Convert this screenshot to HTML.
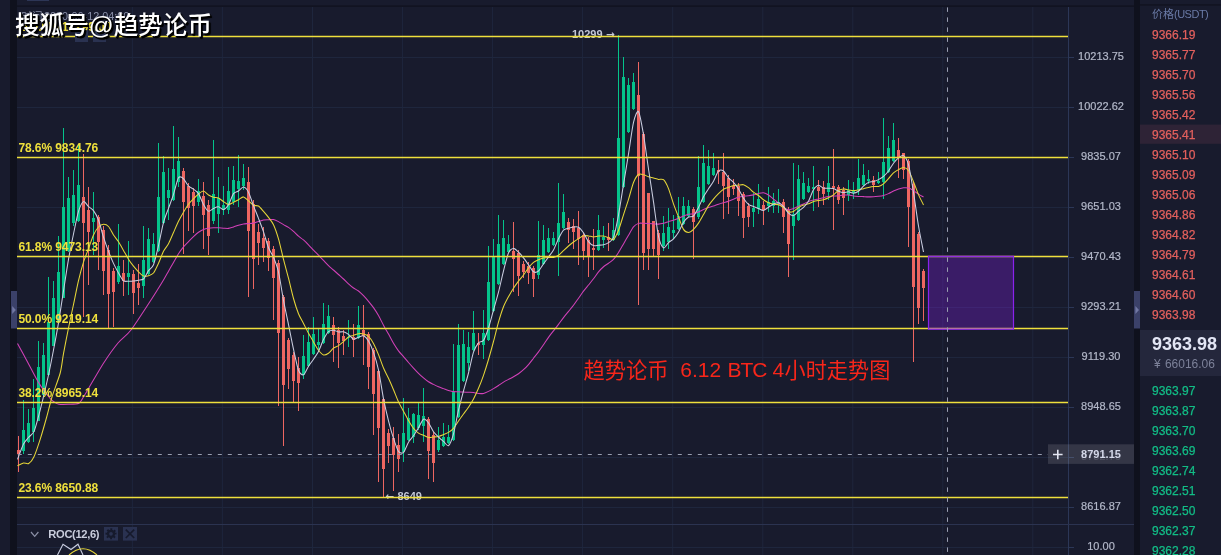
<!DOCTYPE html>
<html><head><meta charset="utf-8"><title>BTC 4H</title>
<style>
html,body{margin:0;padding:0;background:#181b2d;}
#r{will-change:transform;position:relative;width:1221px;height:555px;overflow:hidden;background:#181b2d;font-family:"Liberation Sans","Noto Sans CJK SC",sans-serif;}
#r svg{position:absolute;left:0;top:0;}
.t{position:absolute;white-space:nowrap;line-height:0;height:0;}
.t::before{content:"";display:inline-block;height:0;}
.c{transform:translateX(-50%);}
</style></head><body>
<div id="r">
<svg width="1221" height="555" viewBox="0 0 1221 555" shape-rendering="auto">
<rect x="0" y="0" width="1221" height="555" fill="#181b2d"/>
<rect x="10" y="0" width="7" height="555" fill="#0f111d"/>
<rect x="1134" y="0" width="6" height="555" fill="#0f111d"/>
<rect x="17" y="5.5" width="1117" height="1.2" fill="#0f111d"/>
<rect x="1140" y="4.4" width="81" height="1.1" fill="#0f111d"/>
<rect x="27" y="0" width="22" height="0.9" fill="#303a5c"/>
<rect x="11" y="291" width="6" height="37.5" fill="#3b4169"/>
<path d="M12.2 306 L15.8 310 L12.2 314 Z" fill="#7178a4"/>
<rect x="1134" y="291" width="6" height="37.5" fill="#3b4169"/>
<path d="M1135.4 306 L1139 310 L1135.4 314 Z" fill="#7178a4"/>
<path d="M132.4 7V555 M222.4 7V555 M312.5 7V555 M402.6 7V555 M492.6 7V555 M582.6 7V555 M672.7 7V555 M762.8 7V555 M852.8 7V555 M942.8 7V555 M1032.8 7V555 M17 57.5H1074 M17 107.5H1074 M17 157.5H1074 M17 207.5H1074 M17 257.5H1074 M17 307.5H1074 M17 357.5H1074 M17 407.5H1074 M17 457.5H1074 M17 507.5H1074 M17 547.5H1074" stroke="#1e263d" stroke-width="1" fill="none"/>
<path d="M1068.5 7V555" stroke="#2c3757" stroke-width="1"/>
<path d="M1069 57.5H1074 M1069 107.5H1074 M1069 157.5H1074 M1069 207.5H1074 M1069 257.5H1074 M1069 307.5H1074 M1069 357.5H1074 M1069 407.5H1074 M1069 457.5H1074 M1069 507.5H1074 M1069 547.5H1074" stroke="#2c3757" stroke-width="1" fill="none"/>
<path d="M17 524.5H1134" stroke="#2b3350" stroke-width="1"/>
<path d="M23.5 400V454 M28.5 409V443 M33.5 379V442 M38.5 341V421 M43.5 343V396 M48.5 277V375 M53.5 281V346 M58.5 236V322 M63.5 128V298 M68.5 177V252 M73.5 170V226 M78.5 145V222 M93.5 192V255 M118.5 224V284 M128.5 241V295 M143.5 226V298 M148.5 228V275 M153.5 233V263 M158.5 143V252 M163.5 156V224 M168.5 168V220 M173.5 126V201 M178.5 137V187 M198.5 179V206 M213.5 140V224 M218.5 177V233 M223.5 186V215 M228.5 167V214 M233.5 166V205 M238.5 155V207 M243.5 164V190 M303.5 335V379 M308.5 327V367 M313.5 317V355 M318.5 329V350 M323.5 303V344 M328.5 305V334 M348.5 320V347 M358.5 306V339 M403.5 398V462 M408.5 408V441 M413.5 413V443 M418.5 403V430 M423.5 388V442 M438.5 427V452 M443.5 423V447 M448.5 425V444 M453.5 344V441 M458.5 324V418 M463.5 330V382 M468.5 332V371 M473.5 311V351 M483.5 310V359 M488.5 246V341 M493.5 239V312 M498.5 215V285 M503.5 220V265 M508.5 235V253 M538.5 221V279 M543.5 225V265 M548.5 228V253 M553.5 232V246 M558.5 183V276 M563.5 194V229 M598.5 215V251 M603.5 226V248 M613.5 218V241 M618.5 35V236 M623.5 57V188 M628.5 78V133 M633.5 73V110 M663.5 216V251 M668.5 208V249 M673.5 215V239 M678.5 197V230 M683.5 197V225 M688.5 200V217 M698.5 156V219 M703.5 145V203 M708.5 150V185 M713.5 153V176 M753.5 193V227 M758.5 184V214 M768.5 187V212 M773.5 193V213 M778.5 189V213 M793.5 163V260 M798.5 165V221 M803.5 172V200 M808.5 178V193 M813.5 166V211 M828.5 166V200 M848.5 180V201 M853.5 182V199 M858.5 159V195 M863.5 164V186 M868.5 170V184 M878.5 172V184 M883.5 118V199 M888.5 136V173 M893.5 123V162" stroke="#04c38a" stroke-width="1" fill="none"/>
<path d="M22 430h3v21h-3z M27 423h3v19h-3z M32 408h3v24h-3z M37 367h3v54h-3z M42 355h3v40h-3z M47 322h3v53h-3z M52 298h3v48h-3z M57 272h3v50h-3z M62 207h3v91h-3z M67 198h3v53h-3z M72 195h3v28h-3z M77 185h3v36h-3z M92 218h3v4h-3z M117 266h3v16h-3z M127 273h3v4h-3z M142 260h3v26h-3z M147 239h3v35h-3z M152 244h3v18h-3z M157 197h3v54h-3z M162 172h3v51h-3z M167 190h3v8h-3z M172 169h3v31h-3z M177 161h3v21h-3z M197 191h3v11h-3z M212 194h3v27h-3z M217 198h3v16h-3z M222 205h3v5h-3z M227 191h3v19h-3z M232 180h3v22h-3z M237 181h3v8h-3z M242 178h3v8h-3z M302 356h3v19h-3z M307 342h3v24h-3z M312 334h3v20h-3z M317 342h3v3h-3z M322 324h3v19h-3z M327 316h3v17h-3z M347 337h3v1h-3z M357 325h3v13h-3z M402 433h3v19h-3z M407 418h3v22h-3z M412 414h3v23h-3z M417 415h3v13h-3z M422 416h3v10h-3z M437 440h3v10h-3z M442 437h3v9h-3z M447 437h3v6h-3z M452 392h3v48h-3z M457 345h3v72h-3z M462 344h3v37h-3z M467 347h3v16h-3z M472 333h3v17h-3z M482 333h3v12h-3z M487 282h3v58h-3z M492 257h3v54h-3z M497 244h3v40h-3z M502 238h3v26h-3z M507 244h3v8h-3z M537 255h3v20h-3z M542 240h3v24h-3z M547 238h3v14h-3z M552 238h3v7h-3z M557 223h3v19h-3z M562 212h3v16h-3z M597 230h3v20h-3z M602 237h3v3h-3z M612 230h3v10h-3z M617 138h3v97h-3z M622 77h3v110h-3z M627 85h3v47h-3z M632 82h3v27h-3z M662 233h3v13h-3z M667 227h3v15h-3z M672 230h3v3h-3z M677 216h3v13h-3z M682 206h3v18h-3z M687 206h3v10h-3z M697 187h3v30h-3z M702 163h3v39h-3z M707 166h3v18h-3z M712 168h3v7h-3z M752 208h3v4h-3z M757 199h3v10h-3z M767 202h3v4h-3z M772 201h3v5h-3z M777 202h3v2h-3z M792 214h3v12h-3z M797 179h3v41h-3z M802 183h3v16h-3z M807 186h3v6h-3z M812 187h3v2h-3z M827 183h3v9h-3z M847 190h3v5h-3z M852 190h3v3h-3z M857 178h3v12h-3z M862 175h3v10h-3z M867 179h3v2h-3z M877 181h3v2h-3z M882 162h3v20h-3z M887 148h3v24h-3z M892 140h3v21h-3z" fill="#04c38a"/>
<path d="M18.5 436V472 M83.5 154V317 M88.5 187V285 M98.5 215V270 M103.5 226V295 M108.5 245V328 M113.5 268V327 M123.5 260V296 M133.5 270V314 M138.5 264V305 M183.5 168V254 M188.5 183V231 M193.5 188V233 M203.5 182V249 M208.5 200V255 M248.5 167V297 M253.5 200V289 M258.5 224V265 M263.5 227V262 M268.5 238V271 M273.5 246V320 M278.5 260V406 M283.5 295V446 M288.5 338V389 M293.5 352V402 M298.5 357V411 M333.5 317V362 M338.5 327V368 M343.5 330V355 M353.5 324V357 M363.5 305V365 M368.5 332V389 M373.5 348V435 M378.5 370V482 M383.5 398V498 M388.5 429V463 M393.5 427V491 M398.5 434V472 M428.5 417V479 M433.5 432V482 M478.5 333V355 M513.5 222V292 M518.5 250V296 M523.5 261V278 M528.5 262V284 M533.5 266V297 M568.5 218V243 M573.5 219V249 M578.5 211V265 M583.5 233V260 M588.5 237V277 M593.5 229V270 M608.5 223V251 M638.5 62V305 M643.5 132V270 M648.5 193V270 M653.5 221V256 M658.5 230V279 M693.5 207V259 M718.5 160V184 M723.5 153V219 M728.5 175V214 M733.5 179V195 M738.5 183V216 M743.5 192V238 M748.5 203V227 M763.5 201V225 M783.5 199V233 M788.5 207V277 M818.5 180V207 M823.5 181V205 M833.5 149V230 M838.5 185V204 M843.5 187V215 M873.5 176V192 M898.5 138V178 M903.5 153V179 M908.5 159V247 M913.5 182V362 M918.5 232V324 M923.5 269V321" stroke="#ee6661" stroke-width="1" fill="none"/>
<path d="M17 450h3v4h-3z M82 197h3v26h-3z M87 210h3v22h-3z M97 217h3v25h-3z M102 230h3v41h-3z M107 250h3v44h-3z M112 271h3v21h-3z M122 273h3v8h-3z M132 274h3v19h-3z M137 283h3v5h-3z M182 171h3v31h-3z M187 186h3v22h-3z M192 192h3v14h-3z M202 196h3v19h-3z M207 205h3v31h-3z M247 182h3v49h-3z M252 204h3v55h-3z M257 232h3v11h-3z M262 238h3v10h-3z M267 241h3v17h-3z M272 249h3v29h-3z M277 263h3v70h-3z M282 297h3v88h-3z M287 340h3v29h-3z M292 355h3v26h-3z M297 368h3v15h-3z M332 325h3v10h-3z M337 330h3v13h-3z M342 336h3v5h-3z M352 337h3v3h-3z M362 330h3v6h-3z M367 334h3v33h-3z M372 350h3v44h-3z M377 371h3v57h-3z M382 399h3v70h-3z M387 433h3v13h-3z M392 438h3v17h-3z M397 445h3v14h-3z M427 419h3v32h-3z M432 435h3v28h-3z M477 343h3v2h-3z M512 251h3v8h-3z M517 253h3v23h-3z M522 264h3v8h-3z M527 266h3v7h-3z M532 268h3v11h-3z M567 222h3v8h-3z M572 226h3v6h-3z M577 228h3v11h-3z M582 235h3v16h-3z M587 240h3v16h-3z M592 248h3v2h-3z M607 237h3v3h-3z M637 95h3v81h-3z M642 134h3v119h-3z M647 193h3v56h-3z M652 221h3v28h-3z M657 233h3v22h-3z M692 209h3v13h-3z M717 170h3v2h-3z M722 172h3v14h-3z M727 178h3v19h-3z M732 186h3v3h-3z M737 186h3v15h-3z M742 194h3v24h-3z M747 206h3v11h-3z M762 205h3v5h-3z M782 202h3v15h-3z M787 210h3v34h-3z M817 187h3v4h-3z M822 187h3v7h-3z M832 186h3v2h-3z M837 187h3v13h-3z M842 190h3v8h-3z M872 180h3v5h-3z M897 150h3v8h-3z M902 153h3v17h-3z M907 161h3v46h-3z M912 184h3v103h-3z M917 234h3v74h-3z M922 271h3v17h-3z" fill="#ee6661"/>
<path d="M17.5 343.5C18.87 346.02 24.99 357.19 27.8 362.4C30.61 367.61 35.61 377.79 38.6 382.6C41.59 387.41 48.08 395.89 50.2 398.5C52.32 401.11 53.35 401.44 54.5 402.2C55.65 402.96 57 403.92 58.8 404.2C60.6 404.48 65.31 404.43 68 404.3C70.69 404.17 76.87 404.31 79 403.2C81.13 402.09 82.67 398.07 84 396C85.33 393.93 86.4 392.07 89 387.7C91.6 383.33 99.63 369.16 103.5 363.2C107.37 357.24 114.33 347.43 118 343C121.67 338.57 126.6 335.73 131 330C135.4 324.27 146.67 306.67 151 300C155.33 293.33 161.17 283.81 163.5 279.97C165.83 276.12 167.17 273.5 168.5 271.17C169.83 268.83 172.17 264.79 173.5 262.47C174.83 260.14 177.17 255.81 178.5 253.73C179.83 251.65 182.17 248.49 183.5 246.87C184.83 245.24 187.17 242.94 188.5 241.57C189.83 240.2 192.17 237.84 193.5 236.6C194.83 235.36 197.17 233.18 198.5 232.23C199.83 231.28 202.17 230 203.5 229.47C204.83 228.94 207.17 228.48 208.5 228.27C209.83 228.05 212.17 227.89 213.5 227.83C214.83 227.78 217.17 227.79 218.5 227.83C219.83 227.88 222.17 228.1 223.5 228.17C224.83 228.24 227.17 228.53 228.5 228.37C229.83 228.2 232.17 227.35 233.5 226.93C234.83 226.52 237.17 225.64 238.5 225.23C239.83 224.83 242.17 224.13 243.5 223.9C244.83 223.67 247.17 223.64 248.5 223.53C249.83 223.43 252.17 223.41 253.5 223.13C254.83 222.85 257.17 221.86 258.5 221.43C259.83 221.01 262.17 220.2 263.5 219.97C264.83 219.74 267.17 219.75 268.5 219.7C269.83 219.65 272.17 219.35 273.5 219.6C274.83 219.85 277.17 220.92 278.5 221.6C279.83 222.28 282.17 223.9 283.5 224.67C284.83 225.44 287.17 226.47 288.5 227.37C289.83 228.26 292.17 230.22 293.5 231.4C294.83 232.58 297.17 235.06 298.5 236.2C299.83 237.34 302.17 238.79 303.5 239.93C304.83 241.08 307.17 243.4 308.5 244.77C309.83 246.13 312.17 248.77 313.5 250.17C314.83 251.56 317.17 253.87 318.5 255.23C319.83 256.6 322.17 259.02 323.5 260.4C324.83 261.78 327.17 264.29 328.5 265.57C329.83 266.85 332.17 268.81 333.5 270C334.83 271.19 337.17 273.3 338.5 274.5C339.83 275.7 342.17 277.75 343.5 279C344.83 280.25 347.17 282.66 348.5 283.87C349.83 285.07 352.17 287.08 353.5 288.03C354.83 288.98 357.17 289.97 358.5 291C359.83 292.03 362.17 294.35 363.5 295.73C364.83 297.12 367.17 299.78 368.5 301.37C369.83 302.96 372.17 305.77 373.5 307.67C374.83 309.56 377.17 313.23 378.5 315.57C379.83 317.9 382.17 322.74 383.5 325.2C384.83 327.66 387.17 331.62 388.5 334.03C389.83 336.44 392.17 341.02 393.5 343.27C394.83 345.51 397.17 349.08 398.5 350.87C399.83 352.65 402.17 355.12 403.5 356.67C404.83 358.22 407.17 360.98 408.5 362.5C409.83 364.02 412.17 366.6 413.5 368.03C414.83 369.47 417.17 371.96 418.5 373.27C419.83 374.58 422.17 376.73 423.5 377.87C424.83 379 427.17 380.93 428.5 381.8C429.83 382.67 432.17 383.74 433.5 384.4C434.83 385.06 437.17 386.2 438.5 386.77C439.83 387.33 442.17 388.14 443.5 388.63C444.83 389.12 447.17 390.03 448.5 390.43C449.83 390.83 452.17 391.46 453.5 391.63C454.83 391.81 457.17 391.68 458.5 391.73C459.83 391.79 462.17 392 463.5 392.07C464.83 392.13 467.17 392.17 468.5 392.23C469.83 392.3 472.17 392.36 473.5 392.53C474.83 392.7 477.17 393.38 478.5 393.5C479.83 393.62 482.17 393.71 483.5 393.43C484.83 393.15 487.17 392.04 488.5 391.4C489.83 390.76 492.17 389.39 493.5 388.6C494.83 387.81 497.17 386.37 498.5 385.5C499.83 384.63 502.17 382.91 503.5 382.1C504.83 381.29 507.17 380.1 508.5 379.4C509.83 378.7 512.17 377.58 513.5 376.83C514.83 376.09 517.17 374.75 518.5 373.8C519.83 372.85 522.17 370.96 523.5 369.73C524.83 368.5 527.17 366.1 528.5 364.57C529.83 363.03 532.17 359.93 533.5 358.23C534.83 356.54 537.17 353.67 538.5 351.87C539.83 350.06 542.17 346.64 543.5 344.7C544.83 342.76 547.17 339.18 548.5 337.33C549.83 335.48 552.17 332.57 553.5 330.83C554.83 329.1 557.17 326.1 558.5 324.33C559.83 322.57 562.17 319.32 563.5 317.6C564.83 315.88 567.17 313.07 568.5 311.43C569.83 309.79 572.17 307.06 573.5 305.3C574.83 303.54 577.17 300.12 578.5 298.23C579.83 296.35 582.17 292.93 583.5 291.17C584.83 289.41 587.17 286.68 588.5 285.03C589.83 283.38 592.17 280.55 593.5 278.8C594.83 277.05 597.17 273.51 598.5 271.9C599.83 270.29 602.17 267.89 603.5 266.73C604.83 265.58 607.17 264.21 608.5 263.23C609.83 262.26 612.17 260.87 613.5 259.43C614.83 258 617.17 254.53 618.5 252.47C619.83 250.4 622.17 246.23 623.5 243.93C624.83 241.64 627.17 237.54 628.5 235.27C629.83 233 632.17 228.49 633.5 226.9C634.83 225.31 637.17 223.86 638.5 223.37C639.83 222.88 642.17 223.23 643.5 223.23C644.83 223.24 647.17 223.33 648.5 223.4C649.83 223.47 652.17 223.67 653.5 223.77C654.83 223.86 657.17 224.2 658.5 224.13C659.83 224.07 662.17 223.6 663.5 223.27C664.83 222.93 667.17 222.04 668.5 221.63C669.83 221.23 672.17 220.67 673.5 220.23C674.83 219.79 677.17 218.91 678.5 218.33C679.83 217.76 682.17 216.44 683.5 215.9C684.83 215.36 687.17 214.56 688.5 214.27C689.83 213.97 692.17 213.97 693.5 213.67C694.83 213.36 697.17 212.53 698.5 211.97C699.83 211.41 702.17 210.05 703.5 209.47C704.83 208.88 707.17 208.02 708.5 207.57C709.83 207.12 712.17 206.55 713.5 206.1C714.83 205.65 717.17 204.63 718.5 204.17C719.83 203.7 722.17 203.02 723.5 202.63C724.83 202.24 727.17 201.7 728.5 201.23C729.83 200.77 732.17 199.69 733.5 199.17C734.83 198.65 737.17 197.72 738.5 197.33C739.83 196.95 742.17 196.47 743.5 196.27C744.83 196.07 747.17 196.02 748.5 195.83C749.83 195.65 752.17 195.18 753.5 194.87C754.83 194.56 757.17 193.77 758.5 193.5C759.83 193.23 762.17 192.64 763.5 192.83C764.83 193.03 767.17 194.13 768.5 194.97C769.83 195.8 772.17 198.03 773.5 199.1C774.83 200.17 777.17 201.88 778.5 203C779.83 204.12 782.17 206.6 783.5 207.5C784.83 208.4 787.17 209.64 788.5 209.77C789.83 209.9 792.17 208.95 793.5 208.47C794.83 207.98 797.17 206.74 798.5 206.13C799.83 205.53 802.17 204.53 803.5 203.93C804.83 203.33 807.17 202.14 808.5 201.63C809.83 201.12 812.17 200.46 813.5 200.1C814.83 199.74 817.17 199.22 818.5 198.9C819.83 198.58 822.17 198.01 823.5 197.7C824.83 197.39 827.17 196.83 828.5 196.6C829.83 196.37 832.17 196.11 833.5 196C834.83 195.89 837.17 195.93 838.5 195.8C839.83 195.67 842.17 195.09 843.5 195C844.83 194.91 847.17 194.97 848.5 195.1C849.83 195.23 852.17 195.83 853.5 196C854.83 196.17 857.17 196.32 858.5 196.4C859.83 196.48 862.17 196.57 863.5 196.63C864.83 196.7 867.17 196.84 868.5 196.87C869.83 196.89 872.17 196.91 873.5 196.83C874.83 196.76 877.17 196.49 878.5 196.3C879.83 196.11 882.17 195.76 883.5 195.4C884.83 195.04 887.17 194.22 888.5 193.63C889.83 193.05 892.17 191.64 893.5 191.03C894.83 190.42 897.17 189.5 898.5 189.07C899.83 188.64 902.17 187.93 903.5 187.8C904.83 187.67 907.17 187.69 908.5 188.07C909.83 188.44 912.17 189.82 913.5 190.63C914.83 191.45 917.17 193.31 918.5 194.17C919.83 195.02 922.83 196.68 923.5 197.07" stroke="#d241b8" stroke-width="1.05" fill="none" stroke-linejoin="round"/>
<path d="M17.5 465.7C18.3 465.34 22.01 463.29 23.5 463C24.99 462.71 27.3 464.34 28.7 463.5C30.1 462.66 32.44 460.02 34 456.7C35.56 453.38 38.71 443.89 40.4 438.6C42.09 433.31 45.15 422.55 46.7 417C48.25 411.45 50.2 402.87 52 397C53.8 391.13 58.67 378.79 60.2 373C61.73 367.21 62.39 359.6 63.5 353.6C64.61 347.6 67.17 334.55 68.5 328C69.83 321.45 72.17 310.81 73.5 304.5C74.83 298.19 77.17 286.34 78.5 280.7C79.83 275.06 82.17 266.47 83.5 262.2C84.83 257.93 87.17 252.33 88.5 248.7C89.83 245.07 92.17 237.89 93.5 235C94.83 232.11 97.17 228.43 98.5 227C99.83 225.57 102.17 224.37 103.5 224.3C104.83 224.23 107.17 225.07 108.5 226.5C109.83 227.93 112.17 232.96 113.5 235C114.83 237.04 117.17 239.75 118.5 241.8C119.83 243.85 122.17 248.08 123.5 250.4C124.83 252.72 127.17 257.09 128.5 259.2C129.83 261.31 132.17 264.52 133.5 266.2C134.83 267.88 137.17 270.49 138.5 271.8C139.83 273.11 142.17 275.48 143.5 276C144.83 276.52 147.17 276.1 148.5 275.7C149.83 275.3 152.17 274.65 153.5 273C154.83 271.35 157.17 266.19 158.5 263.3C159.83 260.41 162.17 253.91 163.5 251.3C164.83 248.69 167.17 246.21 168.5 243.7C169.83 241.19 172.17 235.49 173.5 232.5C174.83 229.51 177.17 224.01 178.5 221.3C179.83 218.59 182.17 214.48 183.5 212.2C184.83 209.92 187.17 205.99 188.5 204.2C189.83 202.41 192.17 200.16 193.5 198.8C194.83 197.44 197.17 195.03 198.5 194C199.83 192.97 202.17 190.97 203.5 191.1C204.83 191.23 207.17 194.19 208.5 195C209.83 195.81 212.17 196.8 213.5 197.2C214.83 197.6 217.17 197.41 218.5 198C219.83 198.59 222.17 200.72 223.5 201.6C224.83 202.48 227.17 204.49 228.5 204.6C229.83 204.71 232.17 203.05 233.5 202.4C234.83 201.75 237.17 200.43 238.5 199.7C239.83 198.97 242.17 196.74 243.5 196.9C244.83 197.06 247.17 199.78 248.5 200.9C249.83 202.02 252.17 204.62 253.5 205.3C254.83 205.98 257.17 205.19 258.5 206C259.83 206.81 262.17 209.88 263.5 211.4C264.83 212.92 267.17 215.63 268.5 217.4C269.83 219.17 272.17 221.83 273.5 224.7C274.83 227.57 277.17 234.27 278.5 238.9C279.83 243.53 282.17 254.16 283.5 259.4C284.83 264.64 287.17 272.99 288.5 278.2C289.83 283.41 292.17 293.77 293.5 298.5C294.83 303.23 297.17 310.38 298.5 313.7C299.83 317.02 302.17 320.79 303.5 323.4C304.83 326.01 307.17 330.83 308.5 333.3C309.83 335.77 312.17 339.63 313.5 341.9C314.83 344.17 317.17 348.57 318.5 350.3C319.83 352.03 322.17 354.51 323.5 354.9C324.83 355.29 327.17 354.09 328.5 353.2C329.83 352.31 332.17 349.21 333.5 348.2C334.83 347.19 337.17 346.48 338.5 345.6C339.83 344.72 342.17 342.75 343.5 341.6C344.83 340.45 347.17 337.83 348.5 337C349.83 336.17 352.17 335.84 353.5 335.4C354.83 334.96 357.17 333.9 358.5 333.7C359.83 333.5 362.17 333.54 363.5 333.9C364.83 334.26 367.17 335.13 368.5 336.4C369.83 337.67 372.17 340.97 373.5 343.4C374.83 345.83 377.17 351.32 378.5 354.6C379.83 357.88 382.17 364.84 383.5 368C384.83 371.16 387.17 375.41 388.5 378.3C389.83 381.19 392.17 386.55 393.5 389.7C394.83 392.85 397.17 399.03 398.5 401.9C399.83 404.77 402.17 408.72 403.5 411.2C404.83 413.68 407.17 418.22 408.5 420.5C409.83 422.78 412.17 426.62 413.5 428.3C414.83 429.98 417.17 432.17 418.5 433.1C419.83 434.03 422.17 434.7 423.5 435.3C424.83 435.9 427.17 437.37 428.5 437.6C429.83 437.83 432.17 437.16 433.5 437C434.83 436.84 437.17 436.72 438.5 436.4C439.83 436.08 442.17 435.13 443.5 434.6C444.83 434.07 447.17 433.24 448.5 432.4C449.83 431.56 452.17 429.82 453.5 428.3C454.83 426.78 457.17 422.91 458.5 421C459.83 419.09 462.17 415.84 463.5 414C464.83 412.16 467.17 409.21 468.5 407.2C469.83 405.19 472.17 401.42 473.5 398.9C474.83 396.38 477.17 391.45 478.5 388.3C479.83 385.15 482.17 379.14 483.5 375.3C484.83 371.46 487.17 364.01 488.5 359.5C489.83 354.99 492.17 346.47 493.5 341.5C494.83 336.53 497.17 326.83 498.5 322.2C499.83 317.57 502.17 310.2 503.5 306.8C504.83 303.4 507.17 299.18 508.5 296.7C509.83 294.22 512.17 290.28 513.5 288.2C514.83 286.12 517.17 282.86 518.5 281.1C519.83 279.34 522.17 276.77 523.5 275C524.83 273.23 527.17 269.48 528.5 267.8C529.83 266.12 532.17 263.48 533.5 262.4C534.83 261.32 537.17 260.29 538.5 259.7C539.83 259.11 542.17 258.31 543.5 258C544.83 257.69 547.17 257.48 548.5 257.4C549.83 257.32 552.17 257.68 553.5 257.4C554.83 257.12 557.17 256.21 558.5 255.3C559.83 254.39 562.17 251.84 563.5 250.6C564.83 249.36 567.17 247.15 568.5 246C569.83 244.85 572.17 242.99 573.5 242C574.83 241.01 577.17 239.43 578.5 238.6C579.83 237.77 582.17 236.16 583.5 235.8C584.83 235.44 587.17 235.75 588.5 235.9C589.83 236.05 592.17 236.87 593.5 236.9C594.83 236.93 597.17 236.22 598.5 236.1C599.83 235.98 602.17 235.79 603.5 236C604.83 236.21 607.17 237.23 608.5 237.7C609.83 238.17 612.17 240.49 613.5 239.5C614.83 238.51 617.17 233.59 618.5 230.3C619.83 227.01 622.17 218.92 623.5 214.8C624.83 210.68 627.17 203.71 628.5 199.4C629.83 195.09 632.17 185.82 633.5 182.5C634.83 179.18 637.17 175.53 638.5 174.5C639.83 173.47 642.17 174.51 643.5 174.8C644.83 175.09 647.17 176.29 648.5 176.7C649.83 177.11 652.17 177.54 653.5 177.9C654.83 178.26 657.17 179.16 658.5 179.4C659.83 179.64 662.17 178.47 663.5 179.7C664.83 180.93 667.17 185.37 668.5 188.6C669.83 191.83 672.17 200.11 673.5 203.9C674.83 207.69 677.17 213.6 678.5 217C679.83 220.4 682.17 227.35 683.5 229.4C684.83 231.45 687.17 232.41 688.5 232.4C689.83 232.39 692.17 230.54 693.5 229.3C694.83 228.06 697.17 225.07 698.5 223.1C699.83 221.13 702.17 216.83 703.5 214.5C704.83 212.17 707.17 207.65 708.5 205.6C709.83 203.55 712.17 200.7 713.5 199.1C714.83 197.5 717.17 194.92 718.5 193.6C719.83 192.28 722.17 190.04 723.5 189.2C724.83 188.36 727.17 187.78 728.5 187.3C729.83 186.82 732.17 185.89 733.5 185.6C734.83 185.31 737.17 185.22 738.5 185.1C739.83 184.98 742.17 184.35 743.5 184.7C744.83 185.05 747.17 186.7 748.5 187.7C749.83 188.7 752.17 191.16 753.5 192.2C754.83 193.24 757.17 194.5 758.5 195.5C759.83 196.5 762.17 198.74 763.5 199.7C764.83 200.66 767.17 202.1 768.5 202.7C769.83 203.3 772.17 203.93 773.5 204.2C774.83 204.47 777.17 204.26 778.5 204.7C779.83 205.14 782.17 206.55 783.5 207.5C784.83 208.45 787.17 211.28 788.5 211.8C789.83 212.32 792.17 211.96 793.5 211.4C794.83 210.84 797.17 208.44 798.5 207.6C799.83 206.76 802.17 205.61 803.5 205.1C804.83 204.59 807.17 204.28 808.5 203.8C809.83 203.32 812.17 201.95 813.5 201.5C814.83 201.05 817.17 200.64 818.5 200.4C819.83 200.16 822.17 200.05 823.5 199.7C824.83 199.35 827.17 198.44 828.5 197.8C829.83 197.16 832.17 195.87 833.5 194.9C834.83 193.93 837.17 191.3 838.5 190.5C839.83 189.7 842.17 188.97 843.5 188.9C844.83 188.83 847.17 189.76 848.5 190C849.83 190.24 852.17 190.71 853.5 190.7C854.83 190.69 857.17 190.17 858.5 189.9C859.83 189.63 862.17 189.02 863.5 188.7C864.83 188.38 867.17 187.78 868.5 187.5C869.83 187.22 872.17 186.75 873.5 186.6C874.83 186.45 877.17 186.77 878.5 186.4C879.83 186.03 882.17 184.84 883.5 183.8C884.83 182.76 887.17 180.07 888.5 178.6C889.83 177.13 892.17 174 893.5 172.8C894.83 171.6 897.17 170.29 898.5 169.6C899.83 168.91 902.17 167.48 903.5 167.6C904.83 167.72 907.17 168.62 908.5 170.5C909.83 172.38 912.17 178.49 913.5 181.7C914.83 184.91 917.17 191.51 918.5 194.6C919.83 197.69 922.83 203.53 923.5 204.9" stroke="#e6d638" stroke-width="1.05" fill="none" stroke-linejoin="round"/>
<path d="M17.5 459.4C18.3 457.35 22.03 446.92 23.5 444C24.97 441.08 27.1 439.18 28.5 437.5C29.9 435.82 32.67 434.21 34 431.4C35.33 428.59 37.23 421.04 38.5 416.4C39.77 411.76 42.17 402.12 43.5 396.6C44.83 391.08 47.17 381.21 48.5 375C49.83 368.79 52.17 356.96 53.5 350C54.83 343.04 57.17 330.69 58.5 322.8C59.83 314.91 62.17 299.25 63.5 290.8C64.83 282.35 67.17 266.97 68.5 259.4C69.83 251.83 72.17 240.4 73.5 234C74.83 227.6 77.17 215.72 78.5 211.4C79.83 207.08 82.17 202.24 83.5 201.6C84.83 200.96 87.17 205.4 88.5 206.6C89.83 207.8 92.17 208.81 93.5 210.6C94.83 212.39 97.17 216.45 98.5 220C99.83 223.55 102.17 233.01 103.5 237.2C104.83 241.39 107.17 247.91 108.5 251.4C109.83 254.89 112.17 260.52 113.5 263.4C114.83 266.28 117.17 270.68 118.5 273C119.83 275.32 122.17 279.71 123.5 280.8C124.83 281.89 127.17 281.17 128.5 281.2C129.83 281.23 132.17 281.13 133.5 281C134.83 280.87 137.17 280.47 138.5 280.2C139.83 279.93 142.17 280.28 143.5 279C144.83 277.72 147.17 272.49 148.5 270.6C149.83 268.71 152.17 268.13 153.5 264.8C154.83 261.47 157.17 251.25 158.5 245.6C159.83 239.95 162.17 227.36 163.5 222.4C164.83 217.44 167.17 212.13 168.5 208.4C169.83 204.67 172.17 198.48 173.5 194.4C174.83 190.32 177.17 179.88 178.5 177.8C179.83 175.72 182.17 177.71 183.5 178.8C184.83 179.89 187.17 184.61 188.5 186C189.83 187.39 192.17 188.19 193.5 189.2C194.83 190.21 197.17 191.57 198.5 193.6C199.83 195.63 202.17 202.05 203.5 204.4C204.83 206.75 207.17 210.67 208.5 211.2C209.83 211.73 212.17 208.99 213.5 208.4C214.83 207.81 217.17 206.64 218.5 206.8C219.83 206.96 222.17 209.87 223.5 209.6C224.83 209.33 227.17 206.93 228.5 204.8C229.83 202.67 232.17 195.44 233.5 193.6C234.83 191.76 237.17 191.88 238.5 191C239.83 190.12 242.17 186.84 243.5 187C244.83 187.16 247.17 189.69 248.5 192.2C249.83 194.71 252.17 202.31 253.5 205.8C254.83 209.29 257.17 214.93 258.5 218.4C259.83 221.87 262.17 227.88 263.5 231.8C264.83 235.72 267.17 244.41 268.5 247.8C269.83 251.19 272.17 253.97 273.5 257.2C274.83 260.43 277.17 266.24 278.5 272C279.83 277.76 282.17 293.39 283.5 300.4C284.83 307.41 287.17 318.09 288.5 324.6C289.83 331.11 292.17 343.12 293.5 349.2C294.83 355.28 297.17 366.79 298.5 370.2C299.83 373.61 302.17 375.33 303.5 374.8C304.83 374.27 307.17 368.28 308.5 366.2C309.83 364.12 312.17 361.17 313.5 359.2C314.83 357.23 317.17 354.01 318.5 351.4C319.83 348.79 322.17 342.24 323.5 339.6C324.83 336.96 327.17 332.85 328.5 331.6C329.83 330.35 332.17 330.15 333.5 330.2C334.83 330.25 337.17 331.79 338.5 332C339.83 332.21 342.17 331.48 343.5 331.8C344.83 332.12 347.17 333.41 348.5 334.4C349.83 335.39 352.17 338.83 353.5 339.2C354.83 339.57 357.17 337.65 358.5 337.2C359.83 336.75 362.17 335.29 363.5 335.8C364.83 336.31 367.17 338.79 368.5 341C369.83 343.21 372.17 348.53 373.5 352.4C374.83 356.27 377.17 363.81 378.5 370C379.83 376.19 382.17 392.03 383.5 398.8C384.83 405.57 387.17 415.52 388.5 420.8C389.83 426.08 392.17 434.32 393.5 438.4C394.83 442.48 397.17 449.53 398.5 451.4C399.83 453.27 402.17 453.63 403.5 452.4C404.83 451.17 407.17 444.41 408.5 442.2C409.83 439.99 412.17 437.72 413.5 435.8C414.83 433.88 417.17 430.01 418.5 427.8C419.83 425.59 422.17 419.87 423.5 419.2C424.83 418.53 427.17 421.12 428.5 422.8C429.83 424.48 432.17 429.91 433.5 431.8C434.83 433.69 437.17 435.72 438.5 437C439.83 438.28 442.17 440.25 443.5 441.4C444.83 442.55 447.17 446.61 448.5 445.6C449.83 444.59 452.17 438.52 453.5 433.8C454.83 429.08 457.17 415.91 458.5 410.2C459.83 404.49 462.17 395.96 463.5 391C464.83 386.04 467.17 378.17 468.5 373C469.83 367.83 472.17 356.23 473.5 352.2C474.83 348.17 477.17 344.37 478.5 342.8C479.83 341.23 482.17 342.37 483.5 340.4C484.83 338.43 487.17 332.05 488.5 328C489.83 323.95 492.17 314.77 493.5 310C494.83 305.23 497.17 297.43 498.5 292.2C499.83 286.97 502.17 276.03 503.5 270.8C504.83 265.57 507.17 255.99 508.5 253C509.83 250.01 512.17 248.51 513.5 248.4C514.83 248.29 517.17 250.95 518.5 252.2C519.83 253.45 522.17 256.12 523.5 257.8C524.83 259.48 527.17 262.93 528.5 264.8C529.83 266.67 532.17 270.97 533.5 271.8C534.83 272.63 537.17 272.07 538.5 271C539.83 269.93 542.17 265.67 543.5 263.8C544.83 261.93 547.17 258.84 548.5 257C549.83 255.16 552.17 252.43 553.5 250C554.83 247.57 557.17 241.44 558.5 238.8C559.83 236.16 562.17 231.61 563.5 230.2C564.83 228.79 567.17 228.63 568.5 228.2C569.83 227.77 572.17 227.13 573.5 227C574.83 226.87 577.17 226.43 578.5 227.2C579.83 227.97 582.17 230.88 583.5 232.8C584.83 234.72 587.17 239.89 588.5 241.6C589.83 243.31 592.17 245.12 593.5 245.6C594.83 246.08 597.17 245.31 598.5 245.2C599.83 245.09 602.17 245.15 603.5 244.8C604.83 244.45 607.17 243.59 608.5 242.6C609.83 241.61 612.17 241.08 613.5 237.4C614.83 233.72 617.17 222.07 618.5 215C619.83 207.93 622.17 192.53 623.5 184.4C624.83 176.27 627.17 162.27 628.5 154C629.83 145.73 632.17 128.05 633.5 122.4C634.83 116.75 637.17 109.97 638.5 111.6C639.83 113.23 642.17 126.95 643.5 134.6C644.83 142.25 647.17 160.04 648.5 169C649.83 177.96 652.17 192.81 653.5 201.8C654.83 210.79 657.17 230.27 658.5 236.4C659.83 242.53 662.17 246.97 663.5 247.8C664.83 248.63 667.17 243.8 668.5 242.6C669.83 241.4 672.17 240.19 673.5 238.8C674.83 237.41 677.17 234.39 678.5 232.2C679.83 230.01 682.17 224.43 683.5 222.4C684.83 220.37 687.17 217.85 688.5 217C689.83 216.15 692.17 217.28 693.5 216C694.83 214.72 697.17 209.96 698.5 207.4C699.83 204.84 702.17 199.28 703.5 196.8C704.83 194.32 707.17 190.88 708.5 188.8C709.83 186.72 712.17 183.55 713.5 181.2C714.83 178.85 717.17 172.56 718.5 171.2C719.83 169.84 722.17 170.12 723.5 171C724.83 171.88 727.17 176.28 728.5 177.8C729.83 179.32 732.17 180.91 733.5 182.4C734.83 183.89 737.17 186.89 738.5 189C739.83 191.11 742.17 196.15 743.5 198.2C744.83 200.25 747.17 203.28 748.5 204.4C749.83 205.52 752.17 206.04 753.5 206.6C754.83 207.16 757.17 208.09 758.5 208.6C759.83 209.11 762.17 210.59 763.5 210.4C764.83 210.21 767.17 208.05 768.5 207.2C769.83 206.35 772.17 204.59 773.5 204C774.83 203.41 777.17 202.48 778.5 202.8C779.83 203.12 782.17 205.01 783.5 206.4C784.83 207.79 787.17 211.97 788.5 213.2C789.83 214.43 792.17 215.87 793.5 215.6C794.83 215.33 797.17 212.29 798.5 211.2C799.83 210.11 802.17 208.73 803.5 207.4C804.83 206.07 807.17 203.55 808.5 201.2C809.83 198.85 812.17 191.93 813.5 189.8C814.83 187.67 817.17 185.41 818.5 185.2C819.83 184.99 822.17 187.8 823.5 188.2C824.83 188.6 827.17 188.15 828.5 188.2C829.83 188.25 832.17 188.2 833.5 188.6C834.83 189 837.17 190.67 838.5 191.2C839.83 191.73 842.17 192.52 843.5 192.6C844.83 192.68 847.17 191.72 848.5 191.8C849.83 191.88 852.17 193.28 853.5 193.2C854.83 193.12 857.17 192.13 858.5 191.2C859.83 190.27 862.17 187.37 863.5 186.2C864.83 185.03 867.17 183.04 868.5 182.4C869.83 181.76 872.17 181.77 873.5 181.4C874.83 181.03 877.17 180.27 878.5 179.6C879.83 178.93 882.17 177.55 883.5 176.4C884.83 175.25 887.17 172.76 888.5 171C889.83 169.24 892.17 164.96 893.5 163.2C894.83 161.44 897.17 158.81 898.5 157.8C899.83 156.79 902.17 154.69 903.5 155.6C904.83 156.51 907.17 159.69 908.5 164.6C909.83 169.51 912.17 184.21 913.5 192.4C914.83 200.59 917.17 218.05 918.5 226C919.83 233.95 922.83 248.53 923.5 252" stroke="#c9cde0" stroke-width="1.05" fill="none" stroke-linejoin="round"/>
<text x="572" y="38" font-family="Liberation Sans,sans-serif" font-size="11" font-weight="bold" fill="#c3c7d6">10299</text>
<text x="606.3" y="38.2" font-family="DejaVu Sans,sans-serif" font-size="10.5" font-weight="bold" fill="#c3c7d6">→</text>
<text x="385.5" y="500.2" font-family="DejaVu Sans,sans-serif" font-size="10.5" font-weight="bold" fill="#c3c7d6">←</text>
<text x="397.5" y="500" font-family="Liberation Sans,sans-serif" font-size="11" font-weight="bold" fill="#c3c7d6">8649</text>
<path d="M17 36.5H1068" stroke="#efe03c" stroke-width="1.4"/>
<path d="M17 157.5H1068" stroke="#efe03c" stroke-width="1.4"/>
<path d="M17 256.5H1068" stroke="#efe03c" stroke-width="1.4"/>
<path d="M17 328.5H1068" stroke="#efe03c" stroke-width="1.4"/>
<path d="M17 402.5H1068" stroke="#efe03c" stroke-width="1.4"/>
<path d="M17 497.5H1068" stroke="#efe03c" stroke-width="1.4"/>
<rect x="928.5" y="256.3" width="85" height="72.9" fill="#8a22ee" fill-opacity="0.3" stroke="#8a22ee" stroke-width="1.2"/>
<path d="M17 454.5H1048" stroke="#989db0" stroke-width="1" stroke-dasharray="4 6" stroke-dashoffset="-0.8" fill="none"/>
<path d="M947.5 7.4V555" stroke="#989db0" stroke-width="1" stroke-dasharray="4.5 5.5" fill="none"/>
<rect x="1048" y="444.3" width="86" height="19.6" fill="#ffffff" fill-opacity="0.12"/>
<path d="M1053 454.5h9.6M1057.8 449.7v9.6" stroke="#e3e6f2" stroke-width="1.6" fill="none"/>
<path d="M31 532 L34.7 536.3 L38.4 532" stroke="#8b90a6" stroke-width="1.2" fill="none"/>
<rect x="104" y="527" width="14" height="13.6" fill="#2a3251"/>
<rect x="123" y="527" width="14" height="13.6" fill="#2a3251"/>
<circle cx="111" cy="533.8" r="4.6" stroke="#161a2c" stroke-width="1.9" fill="none" stroke-dasharray="1.8 1.813" transform="rotate(-14 111 533.8)"/>
<circle cx="111" cy="533.8" r="3" stroke="#161a2c" stroke-width="2.3" fill="none"/>
<path d="M125.8 529.6l8.4 8.4M134.2 529.6l-8.4 8.4" stroke="#161a2c" stroke-width="1.7" fill="none"/>
<path d="M57.5 555L63 544.2L71 549.5L78 544.2L83 555" stroke="#c9cde0" stroke-width="1.1" fill="none"/>
<path d="M69 555Q83 542.5 97 555" stroke="#e6d638" stroke-width="1.1" fill="none"/>
<rect x="75" y="29" width="13" height="13" fill="#2a3251"/>
<rect x="93" y="29" width="13" height="13" fill="#2a3251"/>
<rect x="1140" y="124.6" width="81" height="19.2" fill="#2e2336"/>
<rect x="1140" y="330" width="81" height="46" fill="#24273c"/>
</svg>
<div class="t" style="left:21.5px;top:15.96px;font-size:10.5px;color:#8b91aa;">时间</div>
<div class="t" style="left:44px;top:15.66px;font-size:10.8px;color:#8b91aa;">2020-06-12 04:00</div>
<div class="t" style="left:18.4px;top:27.04px;font-size:12px;color:#efe03c;font-weight:bold;letter-spacing:-0.08px;">100.0% 10299.00</div>
<div class="t" style="left:18.4px;top:147.94px;font-size:12px;color:#efe03c;font-weight:bold;letter-spacing:-0.08px;">78.6% 9834.76</div>
<div class="t" style="left:18.4px;top:246.94px;font-size:12px;color:#efe03c;font-weight:bold;letter-spacing:-0.08px;">61.8% 9473.13</div>
<div class="t" style="left:18.4px;top:318.94px;font-size:12px;color:#efe03c;font-weight:bold;letter-spacing:-0.08px;">50.0% 9219.14</div>
<div class="t" style="left:18.4px;top:392.94px;font-size:12px;color:#efe03c;font-weight:bold;letter-spacing:-0.08px;">38.2% 8965.14</div>
<div class="t" style="left:18.4px;top:487.94px;font-size:12px;color:#efe03c;font-weight:bold;letter-spacing:-0.08px;">23.6% 8650.88</div>
<div class="t c" style="left:1101px;top:56.19px;font-size:11px;color:#b3b8c9;-webkit-text-stroke:0.2px;">10213.75</div>
<div class="t c" style="left:1101px;top:106.19px;font-size:11px;color:#b3b8c9;-webkit-text-stroke:0.2px;">10022.62</div>
<div class="t c" style="left:1101px;top:156.19px;font-size:11px;color:#b3b8c9;-webkit-text-stroke:0.2px;">9835.07</div>
<div class="t c" style="left:1101px;top:206.19px;font-size:11px;color:#b3b8c9;-webkit-text-stroke:0.2px;">9651.03</div>
<div class="t c" style="left:1101px;top:256.19px;font-size:11px;color:#b3b8c9;-webkit-text-stroke:0.2px;">9470.43</div>
<div class="t c" style="left:1101px;top:306.19px;font-size:11px;color:#b3b8c9;-webkit-text-stroke:0.2px;">9293.21</div>
<div class="t c" style="left:1101px;top:356.19px;font-size:11px;color:#b3b8c9;-webkit-text-stroke:0.2px;">9119.30</div>
<div class="t c" style="left:1101px;top:406.19px;font-size:11px;color:#b3b8c9;-webkit-text-stroke:0.2px;">8948.65</div>
<div class="t c" style="left:1101px;top:506.19px;font-size:11px;color:#b3b8c9;-webkit-text-stroke:0.2px;">8616.87</div>
<div class="t c" style="left:1101px;top:546.19px;font-size:11px;color:#b3b8c9;-webkit-text-stroke:0.2px;">10.00</div>
<div class="t c" style="left:1101px;top:456.19px;font-size:11px;color:#b3b8c9;opacity:0.22;">8782.76</div>
<div class="t c" style="left:1101px;top:453.79px;font-size:11px;color:#d3d7e8;font-weight:bold;">8791.15</div>
<div class="t" style="left:48.3px;top:533.52px;font-size:11.2px;color:#c9cddc;font-weight:bold;letter-spacing:-0.35px;">ROC(12,6)</div>
<div class="t" style="left:583.4px;top:371.02px;font-size:21.3px;color:#f8261a;">趋势论币</div>
<div class="t" style="left:680.3px;top:370.02px;font-size:21px;color:#f8261a;">6.12</div>
<div class="t" style="left:727.5px;top:370.02px;font-size:21px;color:#f8261a;letter-spacing:-1px;">BTC</div>
<div class="t" style="left:772.5px;top:370.02px;font-size:21px;color:#f8261a;">4</div>
<div class="t" style="left:784.6px;top:371.07px;font-size:21.15px;color:#f8261a;">小时走势图</div>
<div class="t" style="left:15px;top:26.08px;font-size:24.6px;color:#ffffff;font-weight:500;text-shadow:1.5px 1.5px 0 #000,1px 1px 0 #000,2px 2px 1px #000;">搜狐号@趋势论币</div>
<div class="t" style="left:1152px;top:14.49px;font-size:11px;color:#6a7aa6;">价格<span style="letter-spacing:-0.5px">(USDT)</span></div>
<div class="t" style="left:1152px;top:34.74px;font-size:12px;color:#e3605d;-webkit-text-stroke:0.25px;">9366.19</div>
<div class="t" style="left:1152px;top:54.74px;font-size:12px;color:#e3605d;-webkit-text-stroke:0.25px;">9365.77</div>
<div class="t" style="left:1152px;top:74.74px;font-size:12px;color:#e3605d;-webkit-text-stroke:0.25px;">9365.70</div>
<div class="t" style="left:1152px;top:94.74px;font-size:12px;color:#e3605d;-webkit-text-stroke:0.25px;">9365.56</div>
<div class="t" style="left:1152px;top:114.74px;font-size:12px;color:#e3605d;-webkit-text-stroke:0.25px;">9365.42</div>
<div class="t" style="left:1152px;top:134.74px;font-size:12px;color:#e3605d;-webkit-text-stroke:0.25px;">9365.41</div>
<div class="t" style="left:1152px;top:154.74px;font-size:12px;color:#e3605d;-webkit-text-stroke:0.25px;">9365.10</div>
<div class="t" style="left:1152px;top:174.74px;font-size:12px;color:#e3605d;-webkit-text-stroke:0.25px;">9365.09</div>
<div class="t" style="left:1152px;top:194.74px;font-size:12px;color:#e3605d;-webkit-text-stroke:0.25px;">9365.06</div>
<div class="t" style="left:1152px;top:214.74px;font-size:12px;color:#e3605d;-webkit-text-stroke:0.25px;">9364.86</div>
<div class="t" style="left:1152px;top:234.74px;font-size:12px;color:#e3605d;-webkit-text-stroke:0.25px;">9364.82</div>
<div class="t" style="left:1152px;top:254.74px;font-size:12px;color:#e3605d;-webkit-text-stroke:0.25px;">9364.79</div>
<div class="t" style="left:1152px;top:274.74px;font-size:12px;color:#e3605d;-webkit-text-stroke:0.25px;">9364.61</div>
<div class="t" style="left:1152px;top:294.74px;font-size:12px;color:#e3605d;-webkit-text-stroke:0.25px;">9364.60</div>
<div class="t" style="left:1152px;top:314.74px;font-size:12px;color:#e3605d;-webkit-text-stroke:0.25px;">9363.98</div>
<div class="t" style="left:1152px;top:343.56px;font-size:18px;color:#e3e6f5;font-weight:bold;">9363.98</div>
<div class="t" style="left:1154px;top:363.74px;font-size:12px;color:#7c8199;">¥<span style="margin-left:4.2px">66016.06</span></div>
<div class="t" style="left:1152px;top:390.54px;font-size:12px;color:#12bd86;-webkit-text-stroke:0.25px;">9363.97</div>
<div class="t" style="left:1152px;top:410.54px;font-size:12px;color:#12bd86;-webkit-text-stroke:0.25px;">9363.87</div>
<div class="t" style="left:1152px;top:430.54px;font-size:12px;color:#12bd86;-webkit-text-stroke:0.25px;">9363.70</div>
<div class="t" style="left:1152px;top:450.54px;font-size:12px;color:#12bd86;-webkit-text-stroke:0.25px;">9363.69</div>
<div class="t" style="left:1152px;top:470.54px;font-size:12px;color:#12bd86;-webkit-text-stroke:0.25px;">9362.74</div>
<div class="t" style="left:1152px;top:490.54px;font-size:12px;color:#12bd86;-webkit-text-stroke:0.25px;">9362.51</div>
<div class="t" style="left:1152px;top:510.54px;font-size:12px;color:#12bd86;-webkit-text-stroke:0.25px;">9362.50</div>
<div class="t" style="left:1152px;top:530.54px;font-size:12px;color:#12bd86;-webkit-text-stroke:0.25px;">9362.37</div>
<div class="t" style="left:1152px;top:550.54px;font-size:12px;color:#12bd86;-webkit-text-stroke:0.25px;">9362.28</div>
</div>
</body></html>
